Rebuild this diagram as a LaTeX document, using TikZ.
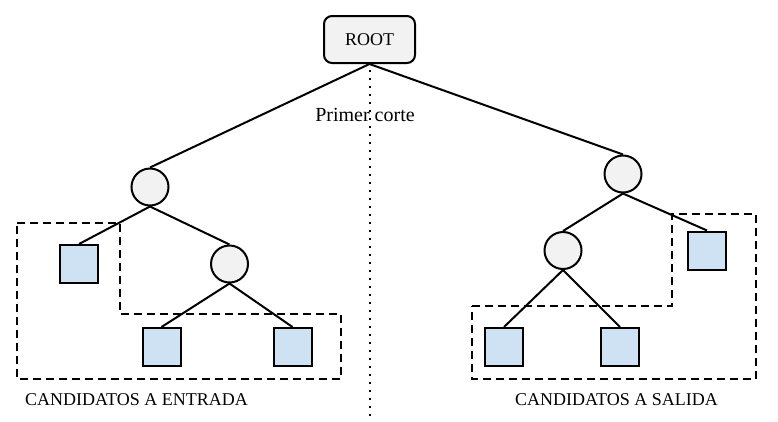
\documentclass[tikz,border=0pt]{standalone}
\usepackage{fontspec}
\setmainfont{Liberation Serif}
\usetikzlibrary{positioning}
\definecolor{nodegray}{HTML}{F2F2F2}
\definecolor{leafblue}{HTML}{CFE2F3}
\tikzset{
    rootnode/.style={
    rectangle,rounded corners=8pt,draw=black,fill=nodegray,
    minimum width=91pt,minimum height=47pt
    },
    decision/.style={
    circle,draw=black,fill=nodegray,minimum size=37pt,inner sep=0pt
    },
    leaf/.style={
    rectangle,draw=black,fill=leafblue,minimum size=38pt,inner sep=0pt
    },
    candidates/.style={
    dash pattern=on 8pt off 5pt,line width=1.7pt
    },
    cut/.style={
    dash pattern=on 2pt off 6pt,line width=2pt,shorten <=6pt
    },
}

\begin{document}
\begin{tikzpicture}[x=1pt,y=-1pt,line width=2pt,
    every node/.style={font=\fontsize{18}{22}\selectfont}]
   \useasboundingbox (0,0) rectangle (778,421);
   \node[rootnode] (root) at (369.5,39.5) {ROOT};
   \coordinate (cutend) at (369.5,419);
   \node[font=\fontsize{20}{24}\selectfont] (cutlabel) at (365,115) {Primer corte};

   % left subtree
   \node[decision] (lefttop) at (150,187) {};
   \node[leaf] (leftleaf) at (79,264) {};
   \node[decision] (leftmid) at (229.5,264) {};
   \node[leaf] (leftA) at (161.5,347) {};
   \node[leaf] (leftB) at (292.5,347) {};

   % right subtree
   \node[decision] (righttop) at (623,174) {};
   \node[decision] (rightmid) at (563,250.5) {};
   \node[leaf] (rightleaf) at (707,250.5) {};
   \node[leaf] (rightA) at (504,347) {};
   \node[leaf] (rightB) at (620,347) {};

   \draw[cut] (root.south) -- (cutend);

   \path[draw]
             (root.south)     -- (lefttop.north)
             (root.south)     -- (righttop.north)
             (lefttop.south)  -- (leftleaf.north)
             (lefttop.south)  -- (leftmid.north)
             (leftmid.south)  -- (leftA.north)
             (leftmid.south)  -- (leftB.north)
             (righttop.south) -- (rightmid.north)
             (righttop.south) -- (rightleaf.north)
             (rightmid.south) -- (rightA.north)
             (rightmid.south) -- (rightB.north);

   % candidate regions
   \draw[candidates] (17,223) -- (120,223) -- (120,314) -- (341,314)
        -- (341,379) -- (17,379) -- cycle;
   \draw[candidates] (472,306) -- (672,306) -- (672,214) -- (756,214)
        -- (756,379) -- (472,379) -- cycle;

   \node (entrada) at (136.5,400) {CANDIDATOS A ENTRADA};
   \node (salida) at (616.5,400) {CANDIDATOS A SALIDA};
\end{tikzpicture}
\end{document}
